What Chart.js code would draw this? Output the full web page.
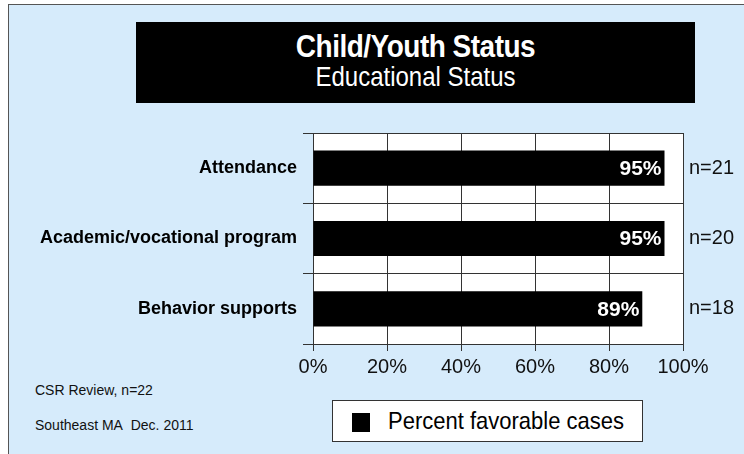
<!DOCTYPE html>
<html>
<head>
<meta charset="utf-8">
<script src="https://cdn.jsdelivr.net/npm/chart.js@4/dist/chart.umd.min.js"></script>
<style>
    html, body { margin: 0; padding: 0; background: #fff; }
    #wrap { position: relative; width: 744px; height: 454px; overflow: hidden; font-family: "Liberation Sans", Arial, sans-serif; }
    #frame { position: absolute; left: 8px; top: 4px; width: 760px; height: 470px; background: #d6ebfb; border: 1px solid #555; }
    #titlebox { position: absolute; left: 136px; top: 22px; width: 559px; height: 81px; background: #000; color: #fff; text-align: center; }
    #titlebox .t1 { font-weight: bold; font-size: 28px; margin-top: 10px; line-height: 30px; letter-spacing: -0.5px; transform: scaleY(1.15); }
    #titlebox .t2 { font-size: 24px; line-height: 30px; transform: scaleY(1.12); }
    .note { position: absolute; left: 35px; font-size: 14px; color: #111; transform: scaleY(1.1); transform-origin: left top; }
    #legend { position: absolute; left: 332px; top: 400px; width: 309px; height: 40px; background: #fff; border: 1px solid #333; font-size: 22px; }
    #legend .box { position: absolute; left: 19px; top: 12px; width: 18px; height: 19px; background: #000; }
    #legend .lbl { position: absolute; left: 55px; top: 6px; transform: scaleY(1.1); transform-origin: left top; }
    canvas { position: absolute; left: 0; top: 0; }
</style>
</head>
<body>
<div id="wrap">
    <div id="frame"></div>
    <div id="titlebox"><div class="t1">Child/Youth Status</div><div class="t2">Educational Status</div></div>
    <div class="note" style="top:381px">CSR Review, n=22</div>
    <div class="note" style="top:416px">Southeast MA&nbsp; Dec. 2011</div>
    <div id="legend"></div>
    <canvas id="chart" width="744" height="454"></canvas>
</div>
<script>
    // Данные диаграммы
    const categories = ["Attendance", "Academic/vocational program", "Behavior supports"];
    const percentFavorable = [95, 95, 89];
    const caseCounts = [21, 20, 18];
    const xTickValues = [0, 20, 40, 60, 80, 100];
    const seriesLabel = "Percent favorable cases";

    const FONT = "'Liberation Sans', Arial, sans-serif";

    // Белый фон области графика
    const plotBackground = {
        id: "plotBackground",
        beforeDraw(chart) {
            const { ctx, chartArea: a } = chart;
            ctx.save();
            ctx.fillStyle = "#fff";
            ctx.fillRect(a.left, a.top, a.right - a.left, a.bottom - a.top);
            ctx.restore();
        },
    };

    // Подписи значений внутри столбцов и n= справа
    const barLabels = {
        id: "barLabels",
        afterDatasetsDraw(chart) {
            const { ctx, chartArea: a } = chart;
            const meta = chart.getDatasetMeta(0);
            ctx.save();
            ctx.textBaseline = "middle";
            meta.data.forEach((bar, i) => {
                ctx.fillStyle = "#fff";
                ctx.textAlign = "right";
                ctx.font = "bold 21px " + FONT;
                ctx.fillText(percentFavorable[i] + "%", bar.x - 3, bar.y + 1);
                ctx.fillStyle = "#111";
                ctx.textAlign = "left";
                ctx.font = "20px " + FONT;
                ctx.fillText("n=" + caseCounts[i], a.right + 6, bar.y);
            });
            ctx.restore();
        },
    };

    const chart = new Chart(document.getElementById("chart"), {
        type: "bar",
        data: {
            labels: categories,
            datasets: [
                {
                    label: seriesLabel,
                    data: percentFavorable,
                    backgroundColor: "#000",
                    barPercentage: 0.5,
                    categoryPercentage: 1,
                },
            ],
        },
        options: {
            indexAxis: "y",
            responsive: false,
            animation: false,
            layout: { padding: { left: 20, right: 61, top: 133, bottom: 70 } },
            plugins: {
                legend: { display: false },
                tooltip: { enabled: false },
            },
            scales: {
                y: {
                    afterFit: (s) => { s.width = 293; },
                    grid: { offset: true, color: "#333", tickLength: 10 },
                    border: { color: "#333" },
                    ticks: { color: "#000", padding: 6, font: { family: FONT, size: 18, weight: "bold" } },
                },
                x: {
                    min: 0,
                    max: 100,
                    afterFit: (s) => { s.height = 40; },
                    afterBuildTicks: (s) => { s.ticks = xTickValues.map((v) => ({ value: v })); },
                    grid: { color: "#333", tickLength: 7 },
                    border: { color: "#333" },
                    ticks: { color: "#111", padding: 4, font: { family: FONT, size: 20 }, callback: (v) => v + "%" },
                },
            },
        },
        plugins: [plotBackground, barLabels],
    });

    // Легенда
    document.getElementById("legend").innerHTML =
        "<span class='box'></span><span class='lbl'>" + chart.data.datasets[0].label + "</span>";
</script>
</body>
</html>
